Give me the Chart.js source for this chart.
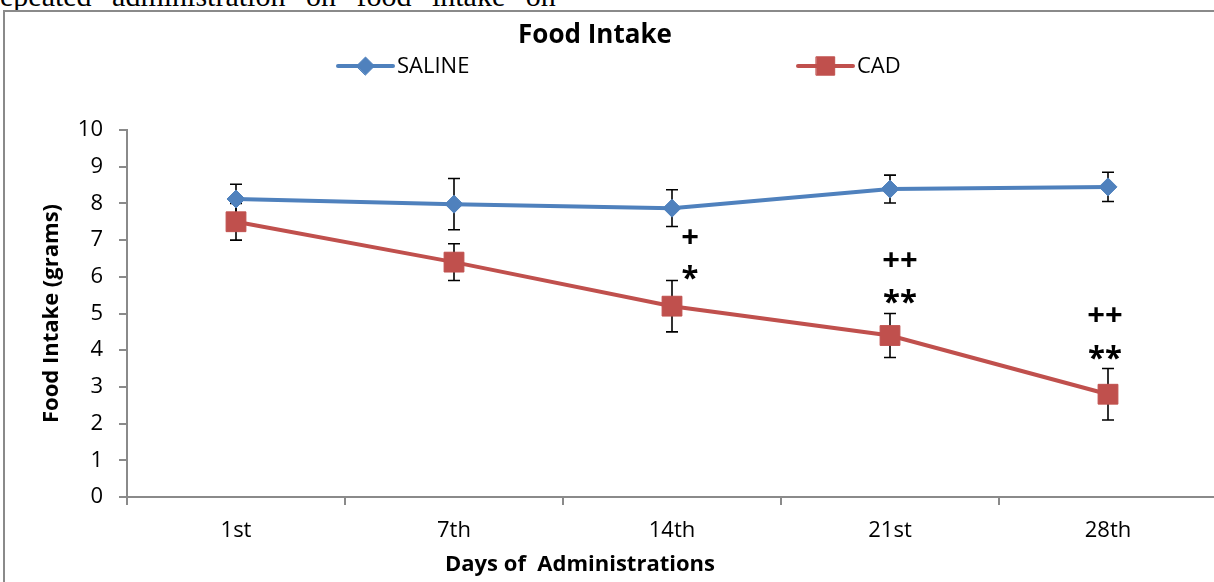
<!DOCTYPE html>
<html>
<head>
<meta charset="utf-8">
<script src="https://cdn.jsdelivr.net/npm/chart.js@4/dist/chart.umd.min.js"></script>
<style>
  html, body { margin: 0; padding: 0; width: 1214px; height: 582px; overflow: hidden; background: #fff; }
  #caption {
    position: absolute; left: 0; top: -19px;
    font-family: "Liberation Serif", serif; font-size: 30px; line-height: 30px;
    word-spacing: 13px; white-space: nowrap; color: #000;
  }
  #frame {
    position: absolute; left: 3px; top: 10px; width: 1300px; height: 700px;
    border-left: 2px solid #8a8a8a; border-top: 2px solid #8a8a8a;
  }
  #chart { position: absolute; left: 5px; top: 12px; }
</style>
</head>
<body>
<div id="caption">epeated administration on food intake on</div>
<div id="frame"></div>
<canvas id="chart" width="1240" height="570"></canvas>
<script>
// Days of administration (x categories)
const days = ['1st', '7th', '14th', '21st', '28th'];

// Mean food intake (grams) and error (±) per group
const salineMean = [8.12, 7.98, 7.87, 8.39, 8.45];
const salineErr  = [0.40, 0.70, 0.50, 0.38, 0.40];
const cadMean    = [7.50, 6.40, 5.20, 4.40, 2.80];
const cadErr     = [0.50, 0.50, 0.70, 0.60, 0.70];

// Significance marks shown above the CAD points
const plusMarks = ['', '', '+', '++', '++'];
const starMarks = ['', '', '*', '**', '**'];

// Y axis tick values / labels
const yTickValues = [0, 1, 2, 3, 4, 5, 6, 7, 8, 9, 10];
const yTickLabels = ['0', '1', '2', '3', '4', '5', '6', '7', '8', '9', '10'];

const BLUE = '#4F81BD';
const RED = '#C0504D';
const AXIS = '#8a8a8a';
const FONT = 'Open Sans';

// Vertical error bars with caps, drawn beneath the series lines
const errorBars = {
  id: 'errorBars',
  beforeDatasetsDraw(chart) {
    const { ctx, scales: { x, y } } = chart;
    const sets = [[salineMean, salineErr], [cadMean, cadErr]];
    ctx.save();
    ctx.strokeStyle = '#000';
    ctx.lineWidth = 1.6;
    const cap = 6;
    sets.forEach(([mean, err]) => {
      mean.forEach((m, i) => {
        const px = x.getPixelForValue(i);
        const top = y.getPixelForValue(m + err[i]);
        const bot = y.getPixelForValue(m - err[i]);
        ctx.beginPath();
        ctx.moveTo(px, top); ctx.lineTo(px, bot);
        ctx.moveTo(px - cap, top); ctx.lineTo(px + cap, top);
        ctx.moveTo(px - cap, bot); ctx.lineTo(px + cap, bot);
        ctx.stroke();
      });
    });
    ctx.restore();
  }
};

// Title, legend, x-axis title and significance marks
const overlay = {
  id: 'overlay',
  afterDraw(chart) {
    const { ctx, scales: { x, y } } = chart;
    const H = Chart.helpers;
    ctx.save();

    // chart title
    ctx.fillStyle = '#000';
    ctx.textAlign = 'center';
    ctx.textBaseline = 'middle';
    ctx.font = `bold 26px "${FONT}"`;
    ctx.fillText('Food Intake', 590, 24);

    // legend
    const entries = [
      { label: 'SALINE', color: BLUE, style: 'rectRot', r: 9, x0: 333 },
      { label: 'CAD', color: RED, style: 'rect', r: 13, x0: 793 }
    ];
    const ly = 54;
    entries.forEach(e => {
      ctx.strokeStyle = e.color;
      ctx.lineWidth = 4;
      ctx.lineCap = 'round';
      ctx.beginPath();
      ctx.moveTo(e.x0, ly); ctx.lineTo(e.x0 + 55, ly);
      ctx.stroke();
      ctx.fillStyle = e.color;
      ctx.lineWidth = 1;
      H.drawPoint(ctx, { pointStyle: e.style, radius: e.r, rotation: 0, borderWidth: 1 }, e.x0 + 27.5, ly);
      ctx.fillStyle = '#000';
      ctx.textAlign = 'left';
      ctx.textBaseline = 'middle';
      ctx.font = `22px "${FONT}"`;
      ctx.fillText(e.label, e.x0 + 59, ly + 1);
    });

    // x-axis title
    ctx.textAlign = 'center';
    ctx.textBaseline = 'middle';
    ctx.font = `bold 22px "${FONT}"`;
    ctx.fillText('Days of  Administrations', 575, 553);

    // significance marks, placed relative to the top of each CAD error bar
    const dx = [0, 0, 18, 10, -3];
    const starDy = [0, 0, -8, -17, -16];
    const plusDy = [0, 0, -44, -54, -54];
    ctx.font = `bold 31px "${FONT}"`;
    ctx.textBaseline = 'alphabetic';
    const drawCentered = (txt, cx, cy) => {
      const m = ctx.measureText(txt);
      const asc = m.actualBoundingBoxAscent, desc = m.actualBoundingBoxDescent;
      ctx.fillText(txt, cx, cy + (asc - desc) / 2);
    };
    days.forEach((d, i) => {
      const px = x.getPixelForValue(i) + dx[i];
      const errTop = y.getPixelForValue(cadMean[i] + cadErr[i]);
      if (starMarks[i]) drawCentered(starMarks[i], px, errTop + starDy[i]);
      if (plusMarks[i]) drawCentered(plusMarks[i], px, errTop + plusDy[i]);
    });
    ctx.restore();
  }
};

function build() {
  new Chart(document.getElementById('chart'), {
    type: 'line',
    data: {
      labels: days,
      datasets: [
        {
          label: 'SALINE', data: salineMean,
          borderColor: BLUE, backgroundColor: BLUE, borderWidth: 4,
          pointStyle: 'rectRot', pointRadius: 9, pointHoverRadius: 9,
          pointBorderWidth: 1, pointBorderColor: BLUE, tension: 0, clip: false
        },
        {
          label: 'CAD', data: cadMean,
          borderColor: RED, backgroundColor: RED, borderWidth: 4,
          pointStyle: 'rect', pointRadius: 14, pointHoverRadius: 14,
          pointBorderWidth: 1, pointBorderColor: RED, tension: 0, clip: false
        }
      ]
    },
    options: {
      responsive: false,
      animation: false,
      devicePixelRatio: 1,
      layout: { padding: { top: 118, right: 28, left: 0, bottom: 0 } },
      plugins: { legend: { display: false }, title: { display: false }, tooltip: { enabled: false } },
      scales: {
        x: {
          type: 'category',
          offset: true,
          grid: { offset: true, drawOnChartArea: false, drawTicks: true, tickLength: 8, color: AXIS, lineWidth: 2 },
          border: { display: true, color: AXIS, width: 2 },
          ticks: { font: { family: FONT, size: 22 }, color: '#000', padding: 13, maxRotation: 0, autoSkip: false },
          afterFit: s => { s.height = 85; }
        },
        y: {
          min: 0, max: 10,
          afterBuildTicks: s => { s.ticks = yTickValues.map(v => ({ value: v })); },
          ticks: {
            font: { family: FONT, size: 22 }, color: '#000', padding: 16,
            callback: (v, i) => yTickLabels[i]
          },
          grid: { drawOnChartArea: false, drawTicks: true, tickLength: 8, color: AXIS, lineWidth: 2 },
          border: { display: true, color: AXIS, width: 2 },
          title: {
            display: true, text: 'Food Intake (grams)', color: '#000',
            font: { family: FONT, size: 22, weight: 'bold' },
            padding: { top: 34, bottom: 0 }
          },
          afterFit: s => { s.width = 122; }
        }
      }
    },
    plugins: [errorBars, overlay]
  });
}

Promise.all([
  document.fonts.load(`22px "${FONT}"`),
  document.fonts.load(`bold 22px "${FONT}"`)
]).then(build, build);
</script>
</body>
</html>
